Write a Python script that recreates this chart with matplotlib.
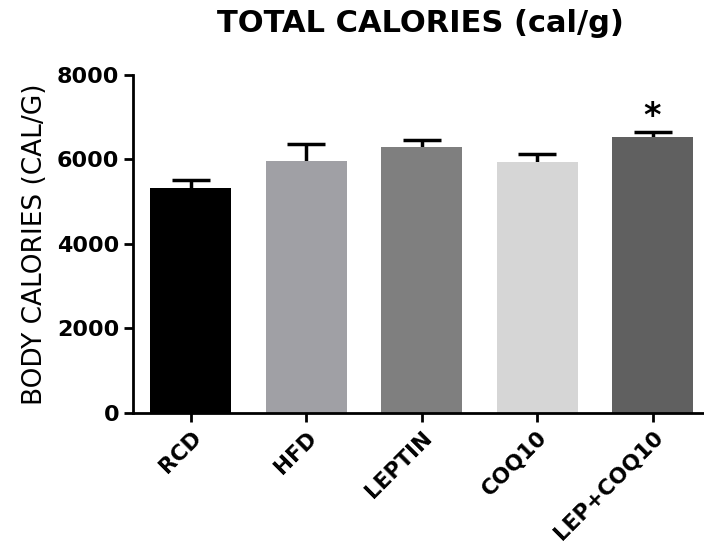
import matplotlib.pyplot as plt
import numpy as np

groups = ['RCD', 'HFD', 'LEPTIN', 'COQ10', 'LEP+COQ10']
means = [5320, 5970, 6290, 5930, 6530]
sem = [200, 400, 175, 200, 120]
colors = ['#000000', '#a0a0a5', '#7f7f7f', '#d6d6d6', '#606060']
significant = [False, False, False, False, True]

plt.rcParams['font.family'] = ['DejaVu Sans']

fig = plt.figure(figsize=(7.04, 5.55), dpi=100)
ax = fig.add_axes([0.189, 0.256, 0.815, 0.609])

x = np.arange(len(groups))
# symmetric error bars drawn behind the bars, so only the upper half shows
ax.errorbar(x, means, yerr=sem, fmt='none', ecolor='black',
            elinewidth=2.5, capsize=14, capthick=2.5, zorder=1)
ax.bar(x, means, width=0.7, color=colors, zorder=2)

for i, sig in enumerate(significant):
    if sig:
        ax.text(x[i], means[i] + sem[i] - 20, '*', ha='center', va='bottom',
                fontsize=24, fontweight='bold')

ax.set_xlim(-0.5, 4.47)
ax.set_ylim(0, 8000)
ax.set_yticks([0, 2000, 4000, 6000, 8000])
ax.set_xticks(x)
ax.set_xticklabels(groups, rotation=45, ha='right', rotation_mode='anchor',
                   fontsize=15.5, fontweight='bold')
for lbl in ax.get_yticklabels():
    lbl.set_fontsize(16)
    lbl.set_fontweight('bold')

ax.spines['top'].set_visible(False)
ax.spines['right'].set_visible(False)
ax.spines['left'].set_linewidth(2)
ax.spines['bottom'].set_linewidth(2)
ax.tick_params(axis='both', width=2, length=6.5, direction='out')
ax.tick_params(axis='x', pad=4)

ax.set_ylabel('BODY CALORIES (CAL/G)', fontsize=19, labelpad=6)
fig.text(0.597, 0.958, 'TOTAL CALORIES (cal/g)', ha='center', va='center',
         fontsize=22, fontweight='bold')

fig.savefig('out.png', dpi=100)
